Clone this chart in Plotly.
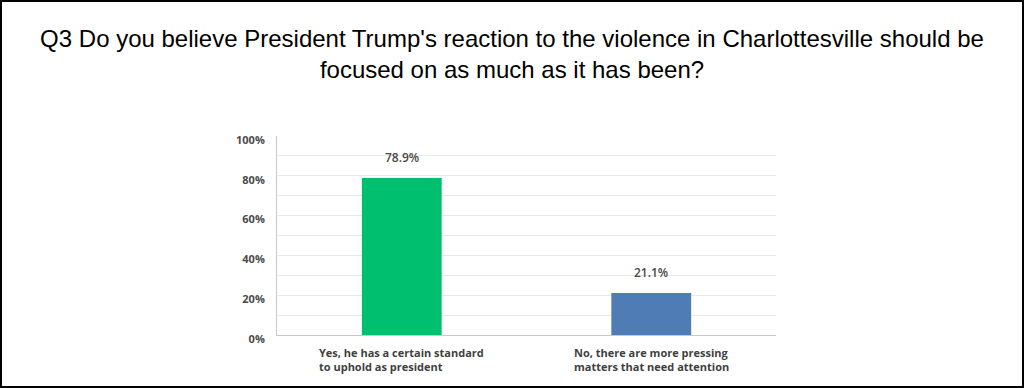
import plotly.graph_objects as go

categories = ["Yes, he has a certain standard<br>to uphold as president",
              "No, there are more pressing<br>matters that need attention"]
values = [78.9, 21.1]
value_labels = ["78.9%", "21.1%"]
colors = ["#00BF6F", "#507CB6"]
tick_vals = [0, 20, 40, 60, 80, 100]
tick_text = ["0%", "20%", "40%", "60%", "80%", "100%"]
title_text = ("Q3 Do you believe President Trump's reaction to the violence in Charlottesville should be"
              "<br>focused on as much as it has been?")

W, H = 1024, 388
ml, mr, mt, mb = 277, 248, 136, 53
pw, ph = W - ml - mr, H - mt - mb

fig = go.Figure()
fig.add_trace(go.Bar(
    x=categories, y=values, marker=dict(color=colors, line=dict(width=0)),
    hoverinfo="skip", showlegend=False,
))

for c, v, t in zip(categories, values, value_labels):
    fig.add_annotation(x=c, y=v, text=t, showarrow=False, yanchor="bottom", yshift=10,
                       font=dict(family="Open Sans", size=12, color="#4a4a4a", weight=600))
    fig.add_annotation(x=c, y=0, text=c, showarrow=False, yanchor="top", yshift=-8,
                       align="left",
                       font=dict(family="Open Sans", size=11, color="#3f3f3f", weight=700))

# outer border
fig.add_shape(type="rect", xref="paper", yref="paper",
              x0=-(ml - 1) / pw, x1=1 + (mr - 1) / pw,
              y0=-(mb - 1) / ph, y1=1 + (mt - 1) / ph,
              line=dict(color="black", width=2), fillcolor="rgba(0,0,0,0)", layer="above")

fig.update_layout(
    width=W, height=H,
    margin=dict(l=ml, r=mr, t=mt, b=mb),
    paper_bgcolor="white", plot_bgcolor="white",
    bargap=0.68,
    title=dict(text=title_text, x=0.5, xref="container", xanchor="center",
               y=1 - 47 / H, yanchor="top", yref="container",
               font=dict(family="Liberation Sans, Arial", size=24, color="black")),
    xaxis=dict(showticklabels=False, showgrid=False, zeroline=False,
               showline=True, linecolor="#c8c8c8", linewidth=1, ticks=""),
    yaxis=dict(range=[0, 100], tickvals=tick_vals, ticktext=tick_text,
               showgrid=True, gridcolor="#e8e8e8", gridwidth=1,
               minor=dict(dtick=10, tick0=0, showgrid=True, gridcolor="#e8e8e8"),
               zeroline=False, showline=True, linecolor="#c8c8c8", linewidth=1,
               ticks="", ticklabelstandoff=9, ticklabelshift=4,
               tickfont=dict(family="Open Sans", size=11, color="#4a4a4a", weight=700)),
)

fig.write_html("out.html", config={"displayModeBar": False},
               post_script="document.body.style.margin='0';document.body.style.padding='0';")
